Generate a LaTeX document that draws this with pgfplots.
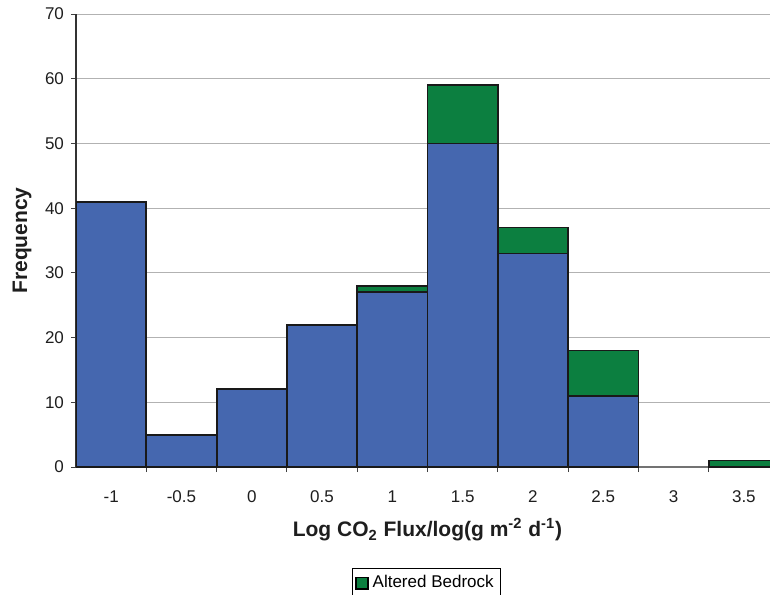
\documentclass[border=0pt]{standalone}
\usepackage{fontspec}
\setmainfont{Liberation Sans}
\usepackage{pgfplots}
\pgfplotsset{compat=1.18}
\definecolor{barblue}{RGB}{69,103,175}
\definecolor{bargreen}{RGB}{12,127,64}
\definecolor{txt}{RGB}{30,30,30}
\begin{document}
\begin{tikzpicture}
\path[use as bounding box, clip] (-38pt,-63.5pt) rectangle (347pt,233.5pt);
\begin{axis}[
 at={(0,0)}, anchor=south west,
 scale only axis, width=351.5pt, height=226.5pt,
 ybar stacked, bar width=1,
 xmin=-0.5, xmax=9.5, ymin=0, ymax=70,
 axis x line*=bottom, axis y line*=left,
 x axis line style={black!55, line width=0.6pt},
 y axis line style={black!80, line width=0.6pt},
 xtick={0,...,9}, xticklabels={-1,-0.5,0,0.5,1,1.5,2,2.5,3,3.5},
 minor xtick={0.5,1.5,...,9.5},
 major x tick style={draw=none},
 ytick={0,10,...,70},
 tick align=outside,
 major tick length=2.5pt, minor tick length=2.5pt,
 tick style={black!75, line width=0.5pt},
 ymajorgrids, grid style={black!30, line width=0.5pt},
 /pgf/number format/assume math mode=true,
 tick label style={font=\fontsize{8.5}{10}\selectfont, text=txt},
 xticklabel style={yshift=-6pt},
 xlabel={Log CO\textsubscript{2} Flux/log(g m\textsuperscript{-2} d\textsuperscript{-1})},
 ylabel={Frequency},
 label style={font=\fontsize{10.5}{12}\selectfont\bfseries, text=txt},
 xlabel style={at={(axis description cs:0.5,-0.139)}, anchor=center},
 ylabel style={at={(axis description cs:-0.0768,0.5)}, anchor=center},
 legend style={at={(axis description cs:0.3926,-0.223)}, anchor=north west,
   draw=black, line width=0.5pt, font=\fontsize{8.5}{10}\selectfont,
   inner sep=1.5pt, row sep=6pt},
 legend cell align=left,
]
\addplot[fill=barblue, draw=black!90, line width=0.9pt, forget plot] coordinates {
 (0,41) (1,5) (2,12) (3,22) (4,27) (5,50) (6,33) (7,11) (9,0)};
\addplot[fill=bargreen, draw=black!90, line width=0.9pt,
  legend image code/.code={\draw[fill=bargreen, draw=black, line width=0.8pt] (0pt,-2.9pt) rectangle (5.8pt,2.9pt);}]
  coordinates {
 (0,0) (1,0) (2,0) (3,0) (4,1) (5,9) (6,4) (7,7) (9,1)};
\addlegendentry{Altered Bedrock}
\addlegendimage{empty legend}
\addlegendentry{}
\end{axis}
\end{tikzpicture}
\end{document}
